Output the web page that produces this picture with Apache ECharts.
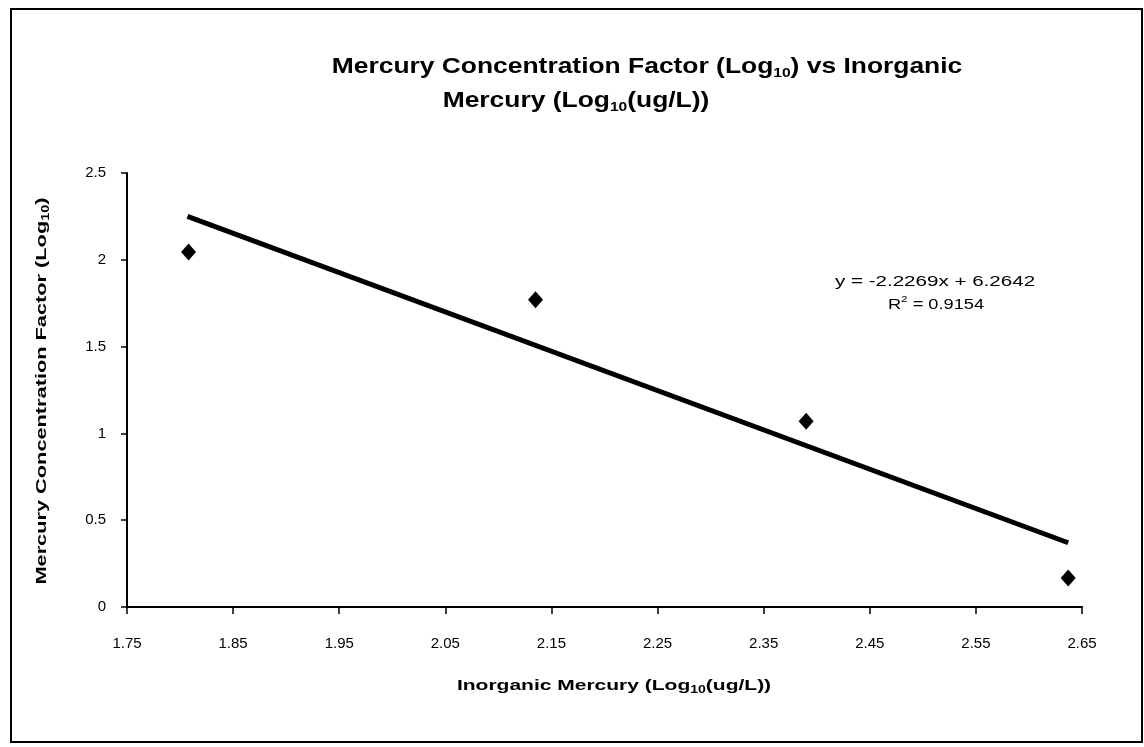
<!DOCTYPE html>
<html>
<head>
<meta charset="utf-8">
<script src="https://cdn.jsdelivr.net/npm/echarts@6/dist/echarts.min.js"></script>
<style>
html,body{margin:0;padding:0;background:#fff;}
#chart{width:1144px;height:747px;}
</style>
</head>
<body>
<div id="chart"></div>
<script>
// Data
const xValues = [1.808, 2.135, 2.39, 2.637];
const yValues = [2.045, 1.77, 1.07, 0.167];
const trendX = [1.807, 2.637];
const trendY = [2.25, 0.37];
const xTicks = ['1.75','1.85','1.95','2.05','2.15','2.25','2.35','2.45','2.55','2.65'];
const yTicks = ['0','0.5','1','1.5','2','2.5'];
const titleLine1 = ['Mercury Concentration Factor (Log', '10', ') vs Inorganic'];
const titleLine2 = ['Mercury (Log', '10', '(ug/L))'];
const xName = ['Inorganic Mercury (Log', '10', '(ug/L))'];
const yName = ['Mercury Concentration Factor (Log', '10', ')'];
const equationText = 'y = -2.2269x + 6.2642';
const r2Text = ' = 0.9154';

const FONT = '"Liberation Sans", Arial, sans-serif';
const chart = echarts.init(document.getElementById('chart'), null, {renderer: 'canvas'});

const points = xValues.map((x, i) => [x, yValues[i]]);
const trend = trendX.map((x, i) => [x, trendY[i]]);

function subRich(size, lh, subSize, subLh) {
  return {
    b: {fontFamily: FONT, fontWeight: 'bold', fontSize: size, lineHeight: lh, fill: '#000'},
    s: {fontFamily: FONT, fontWeight: 'bold', fontSize: subSize, lineHeight: subLh, verticalAlign: 'bottom', fill: '#000'}
  };
}
function subText(parts) {
  return '{b|' + parts[0] + '}{s|' + parts[1] + '}{b|' + parts[2] + '}';
}
function centerText(x, y, text, rich, sx, rot) {
  return {
    type: 'text', x: x, y: y, scaleX: sx, rotation: rot || 0, silent: true,
    style: {x: 0, y: 0, text: text, rich: rich, align: 'center', verticalAlign: 'middle', fill: '#000'}
  };
}

chart.setOption({
  backgroundColor: '#fff',
  animation: false,
  grid: {left: 127, right: 62, top: 173, bottom: 140, containLabel: false},
  xAxis: {
    type: 'value', min: 1.75, max: 2.65, interval: 0.1,
    axisLine: {show: true, onZero: false, lineStyle: {color: '#000', width: 2}},
    axisTick: {show: true, length: 7, lineStyle: {color: '#000', width: 1.5}},
    splitLine: {show: false},
    axisLabel: {
      margin: 29, color: '#000', fontFamily: FONT, fontSize: 15,
      formatter: v => xTicks[Math.round((v - 1.75) / 0.1)] || ''
    }
  },
  yAxis: {
    type: 'value', min: 0, max: 2.5, interval: 0.5,
    axisLine: {show: true, onZero: false, lineStyle: {color: '#000', width: 2}},
    axisTick: {show: true, length: 6, lineStyle: {color: '#000', width: 1.5}},
    splitLine: {show: false},
    axisLabel: {
      margin: 21, color: '#000', fontFamily: FONT, fontSize: 15,
      formatter: v => yTicks[Math.round(v / 0.5)] || ''
    }
  },
  series: [
    {
      type: 'line', data: trend, symbol: 'none', silent: true,
      lineStyle: {color: '#000', width: 5}, z: 2
    },
    {
      type: 'scatter', data: points, symbol: 'diamond', symbolSize: [15, 17],
      itemStyle: {color: '#000', opacity: 1}, z: 3
    }
  ],
  graphic: [
    {
      type: 'rect', shape: {x: 11, y: 9, width: 1131, height: 733},
      style: {fill: 'none', stroke: '#000', lineWidth: 2}, silent: true, z: -1
    },
    centerText(647, 67, subText(titleLine1), subRich(22, 26, 13, 16), 1.2),
    centerText(576, 101, subText(titleLine2), subRich(22, 26, 13, 16), 1.2),
    centerText(614, 686, subText(xName), subRich(15, 18, 10, 12), 1.4),
    centerText(42, 391, subText(yName), subRich(15, 18, 10, 12), 1.45, Math.PI / 2),
    {
      type: 'text', x: 935, y: 282, scaleX: 1.47, silent: true,
      style: {x: 0, y: 0, text: equationText, fontFamily: FONT, fontSize: 14, fill: '#000', align: 'center', verticalAlign: 'middle'}
    },
    {
      type: 'text', x: 936, y: 305, scaleX: 1.3, silent: true,
      style: {
        x: 0, y: 0, align: 'center', verticalAlign: 'middle',
        text: '{n|R}{p|2}{n|' + r2Text + '}',
        rich: {
          n: {fontFamily: FONT, fontSize: 14, lineHeight: 20, fill: '#000'},
          p: {fontFamily: FONT, fontSize: 9, lineHeight: 12, verticalAlign: 'top', fill: '#000'}
        }
      }
    }
  ]
});
</script>
</body>
</html>
